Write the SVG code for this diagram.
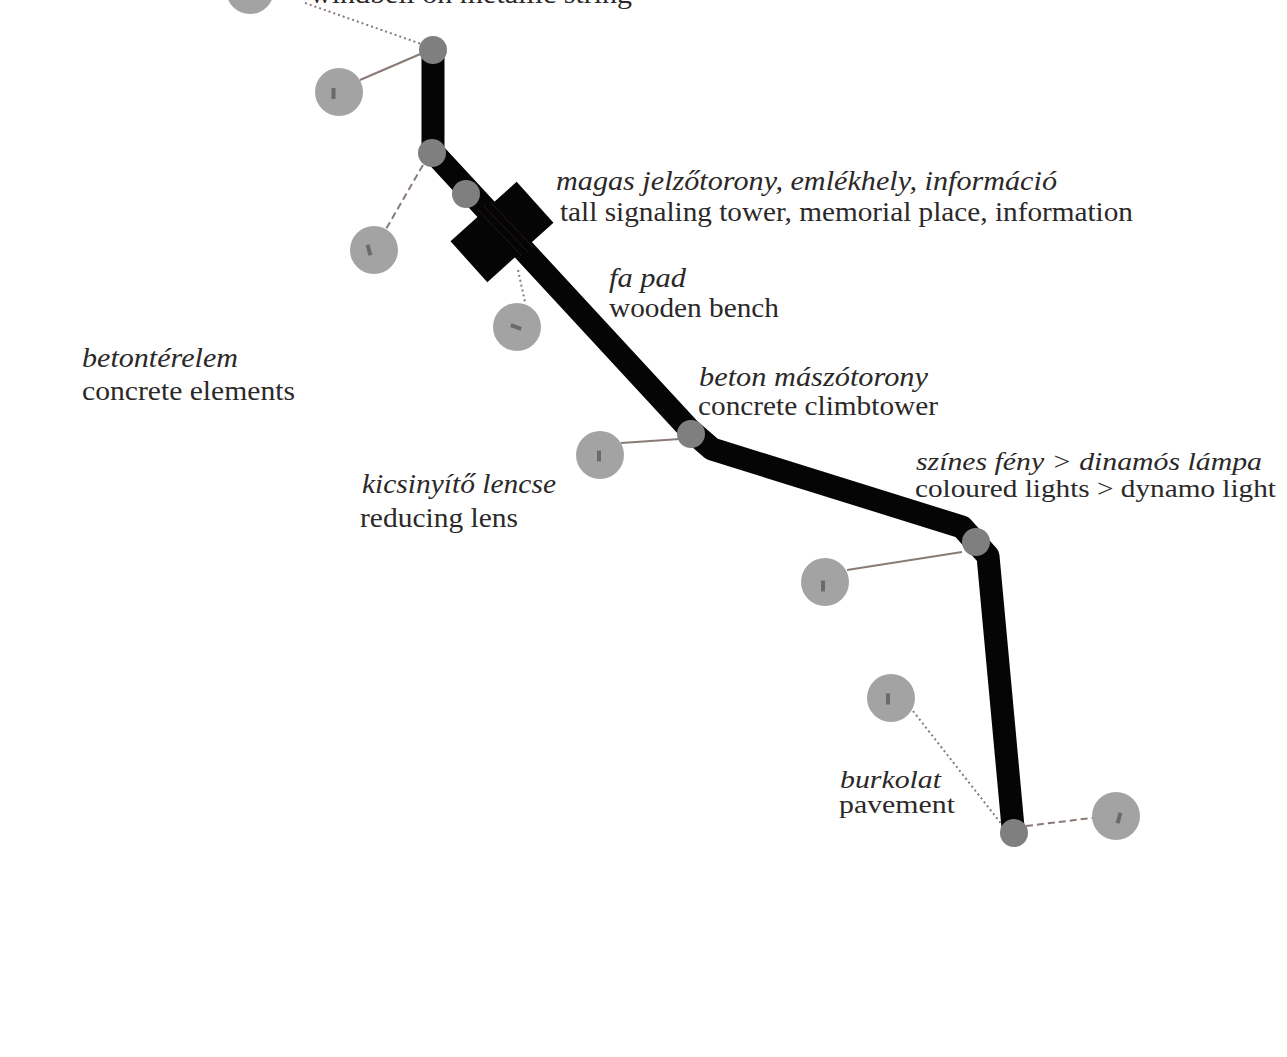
<svg xmlns="http://www.w3.org/2000/svg" width="1287" height="1057" viewBox="0 0 1287 1057">
<style>
.it{font-family:"Liberation Serif","DejaVu Serif",serif;font-style:italic;font-size:27px;fill:#2b2828}
.rm{font-family:"Liberation Serif","DejaVu Serif",serif;font-size:27px;fill:#2b2828}
.sm{font-size:25px}
.node{fill:#7f7f7f}
.sat{fill:#a3a3a3}
.mark{fill:#6a6a6a}
.ln{stroke:#8a7a76;stroke-width:2;fill:none}
.dot{stroke-dasharray:2 3}
.dash{stroke-dasharray:7 4}
</style>
<rect width="1287" height="1057" fill="#ffffff"/>
<g id="path-route">
<polyline points="433,45 433,152 690,430 712,449 962,527 988,556 1014,838" fill="none" stroke="#050505" stroke-width="23" stroke-linejoin="round"/>
</g>
<g id="tower">
<rect x="-44.5" y="-27.5" width="89" height="55" transform="translate(502,232) rotate(-42)" fill="#050505"/>
<g stroke="#3a2020" stroke-width="1" opacity="0.7">
<line x1="478" y1="210" x2="522" y2="256"/>
<line x1="484" y1="206" x2="528" y2="252"/>
<line x1="490" y1="202" x2="534" y2="248"/>
</g>
</g>
<g id="connectors">
<line class="ln dot" x1="305" y1="3" x2="427" y2="46"/>
<line class="ln" x1="360" y1="80" x2="425" y2="52"/>
<line class="ln dash" x1="423" y1="165" x2="386" y2="229"/>
<line class="ln dot" x1="518" y1="270" x2="525" y2="302"/>
<line class="ln" x1="621" y1="443" x2="680" y2="439"/>
<line class="ln" x1="847" y1="570" x2="962" y2="552"/>
<line class="ln dot" x1="913" y1="711" x2="1003" y2="826"/>
<line class="ln dash" x1="1026" y1="826" x2="1100" y2="817"/>
</g>
<g id="nodes-on-path">
<circle class="node" cx="433" cy="50" r="14"/>
<circle class="node" cx="432" cy="153" r="14"/>
<circle class="node" cx="466" cy="194" r="14"/>
<circle class="node" cx="691" cy="434" r="14"/>
<circle class="node" cx="976" cy="542" r="14"/>
<circle class="node" cx="1014" cy="833" r="14"/>
</g>
<g id="sat-windbell"><circle class="sat" cx="250" cy="-10" r="24"/></g>
<g id="sat-1"><circle class="sat" cx="339" cy="92" r="24"/><rect class="mark" x="331.5" y="88" width="4" height="11"/></g>
<g id="sat-2"><circle class="sat" cx="374" cy="250" r="24"/><rect class="mark" x="367" y="244.5" width="4" height="11" transform="rotate(-15 369 250)"/></g>
<g id="sat-3"><circle class="sat" cx="517" cy="327" r="24"/><rect class="mark" x="510.5" y="325" width="11" height="4" transform="rotate(20 516 327)"/></g>
<g id="sat-4"><circle class="sat" cx="600" cy="455" r="24"/><rect class="mark" x="597" y="450.5" width="4" height="11"/></g>
<g id="sat-5"><circle class="sat" cx="825" cy="582" r="24"/><rect class="mark" x="821" y="580.5" width="4" height="11"/></g>
<g id="sat-6"><circle class="sat" cx="891" cy="698" r="24"/><rect class="mark" x="886" y="693.5" width="4" height="11"/></g>
<g id="sat-7"><circle class="sat" cx="1116" cy="816" r="24"/><rect class="mark" x="1117" y="812.5" width="4" height="11" transform="rotate(15 1119 818)"/></g>
<g id="labels">
<text class="rm" x="310" y="3" textLength="322" lengthAdjust="spacingAndGlyphs">windbell on metallic string</text>
<text class="it" x="556" y="190" textLength="501" lengthAdjust="spacingAndGlyphs">magas jelzőtorony, emlékhely, információ</text>
<text class="rm" x="560" y="221" textLength="573" lengthAdjust="spacingAndGlyphs">tall signaling tower, memorial place, information</text>
<text class="it" x="609" y="287" textLength="77" lengthAdjust="spacingAndGlyphs">fa pad</text>
<text class="rm" x="609" y="317" textLength="170" lengthAdjust="spacingAndGlyphs">wooden bench</text>
<text class="it" x="82" y="367" textLength="156" lengthAdjust="spacingAndGlyphs">betontérelem</text>
<text class="rm" x="82" y="400" textLength="213" lengthAdjust="spacingAndGlyphs">concrete elements</text>
<text class="it" x="699" y="386" textLength="229" lengthAdjust="spacingAndGlyphs">beton mászótorony</text>
<text class="rm" x="698" y="415" textLength="240" lengthAdjust="spacingAndGlyphs">concrete climbtower</text>
<text class="it sm" x="916" y="470" textLength="346" lengthAdjust="spacingAndGlyphs">színes fény &gt; dinamós lámpa</text>
<text class="rm sm" x="915" y="497" textLength="361" lengthAdjust="spacingAndGlyphs">coloured lights &gt; dynamo light</text>
<text class="it" x="362" y="493" textLength="194" lengthAdjust="spacingAndGlyphs">kicsinyítő lencse</text>
<text class="rm" x="360" y="527" textLength="158" lengthAdjust="spacingAndGlyphs">reducing lens</text>
<text class="it sm" x="840" y="788" textLength="101" lengthAdjust="spacingAndGlyphs">burkolat</text>
<text class="rm sm" x="839" y="813" textLength="116" lengthAdjust="spacingAndGlyphs">pavement</text>
</g>
</svg>
